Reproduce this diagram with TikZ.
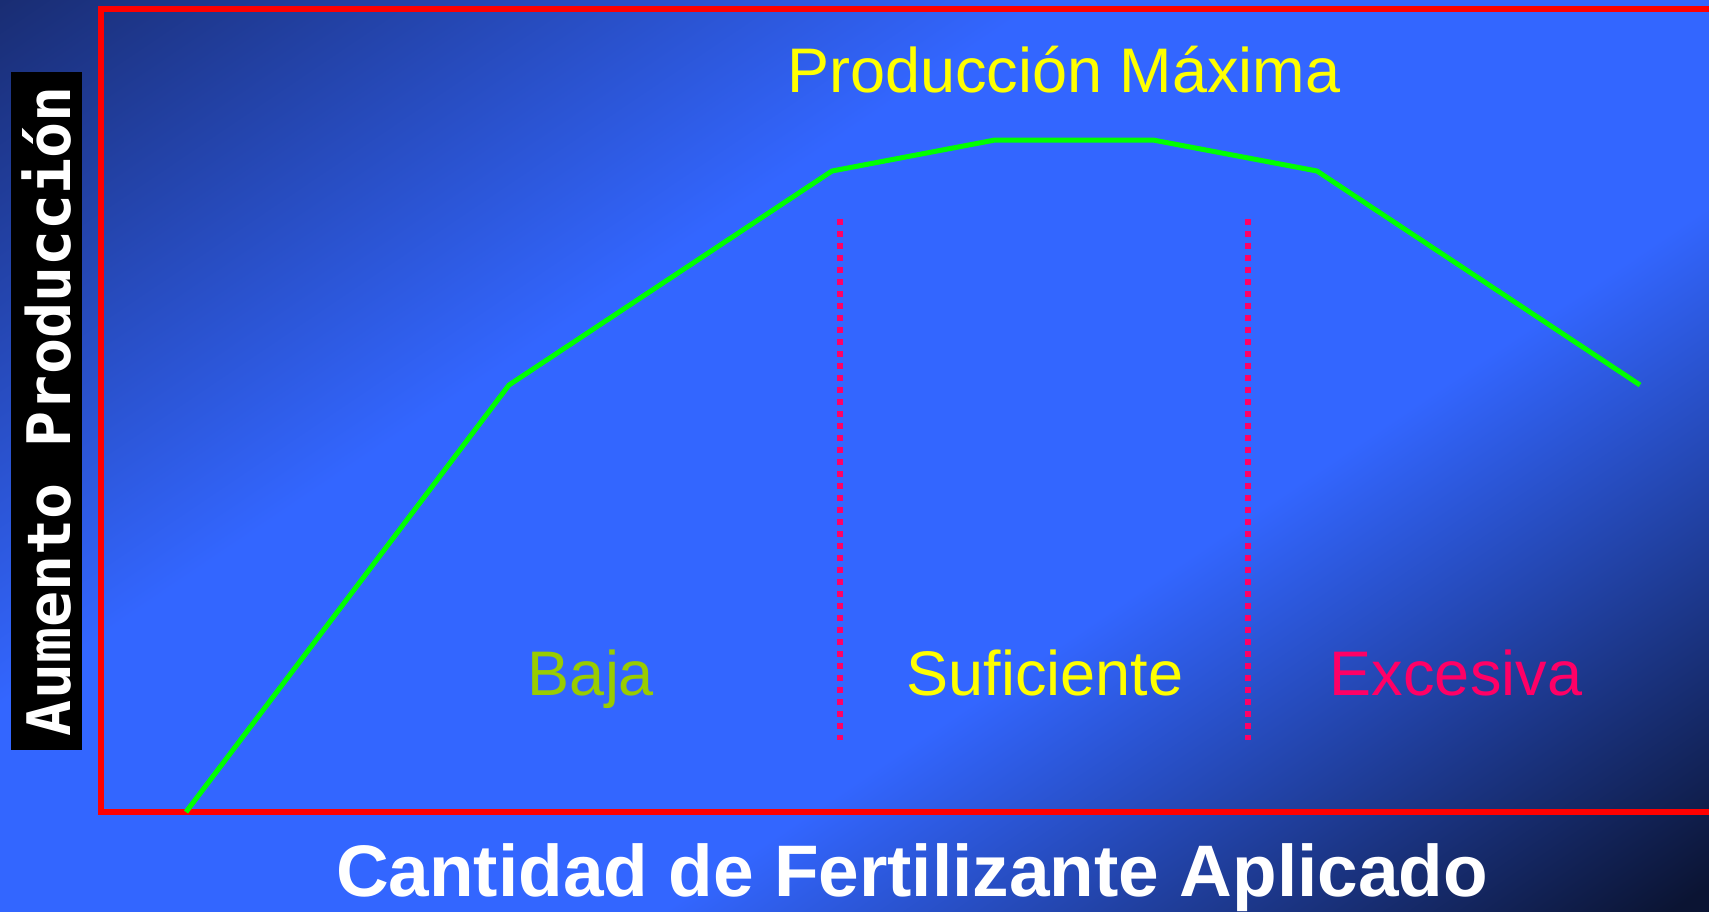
\documentclass[tikz,border=0pt]{standalone}
\usepackage{fontspec}
\setmainfont{Liberation Sans}
\newfontfamily\lblfont{DejaVu Sans Mono}
\definecolor{bgA}{HTML}{182A6C}
\definecolor{bgB}{HTML}{3366FF}
\definecolor{bgC}{HTML}{0B1433}
\definecolor{curvegreen}{HTML}{00FF00}
\definecolor{framered}{HTML}{FF0000}
\definecolor{dotred}{HTML}{FF0066}
\definecolor{bajagreen}{HTML}{99CC00}
\definecolor{txtyellow}{HTML}{FFFF00}
\pgfdeclarehorizontalshading{bgsh}{100bp}{color(0bp)=(bgA); color(14bp)=(bgA); color(39bp)=(bgB); color(61bp)=(bgB); color(84bp)=(bgC); color(100bp)=(bgC)}
\tikzset{
  frame/.style={draw=framered, line width=6pt, line join=miter},
  curve/.style={draw=curvegreen, line width=5pt},
  divider/.style={draw=dotred, line width=6pt, dash pattern=on 6pt off 6pt},
  zone/.style={inner sep=0pt, anchor=base, font=\fontsize{63}{70}\selectfont},
}
\begin{document}
\begin{tikzpicture}[x=1pt,y=-1pt]
\useasboundingbox (0,0) rectangle (1709,911);
\clip (0,0) rectangle (1709,911);
\shade[shading=bgsh, shading angle=-56] (0,0) rectangle (1709,911);
% frame
\coordinate (ftr) at (1720,9);
\coordinate (ftl) at (101,9);
\coordinate (fbl) at (101,812);
\coordinate (fbr) at (1720,812);
\draw[frame] (ftr) -- (ftl) -- (fbl) -- (fbr);
% dividers
\coordinate (d1t) at (840,219);
\coordinate (d1b) at (840,740);
\coordinate (d2t) at (1248,219);
\coordinate (d2b) at (1248,740);
\draw[divider] (d1t) -- (d1b);
\draw[divider] (d2t) -- (d2b);
% curve
\coordinate (p0) at (186,812);
\coordinate (p1) at (509,385);
\coordinate (p2) at (832,171);
\coordinate (p3) at (995,140);
\coordinate (p4) at (1153,140);
\coordinate (p5) at (1317,171);
\coordinate (p6) at (1640,385);
\draw[curve] (p0) -- (p1) -- (p2) -- (p3) -- (p4) -- (p5) -- (p6);
% texts
\node[zone, text=txtyellow] (pmax) at (1064,92) {Producción Máxima};
\node[zone, text=bajagreen] (baja) at (591,695) {Baja};
\node[zone, text=txtyellow] (suf) at (1045,695) {Suficiente};
\node[zone, text=dotred] (exc) at (1456,695) {Excesiva};
\node[inner sep=0pt, anchor=base, text=white, font=\fontsize{73}{80}\selectfont\bfseries] (xlab) at (912,896) {Cantidad de Fertilizante Aplicado};
\node[fill=black, rotate=90, minimum width=678pt, minimum height=71pt, inner sep=0pt, text=white, font=\lblfont\fontsize{60}{66}\selectfont\bfseries] (ylab) at (46.5,411) {Aumento Producción};
\end{tikzpicture}
\end{document}
